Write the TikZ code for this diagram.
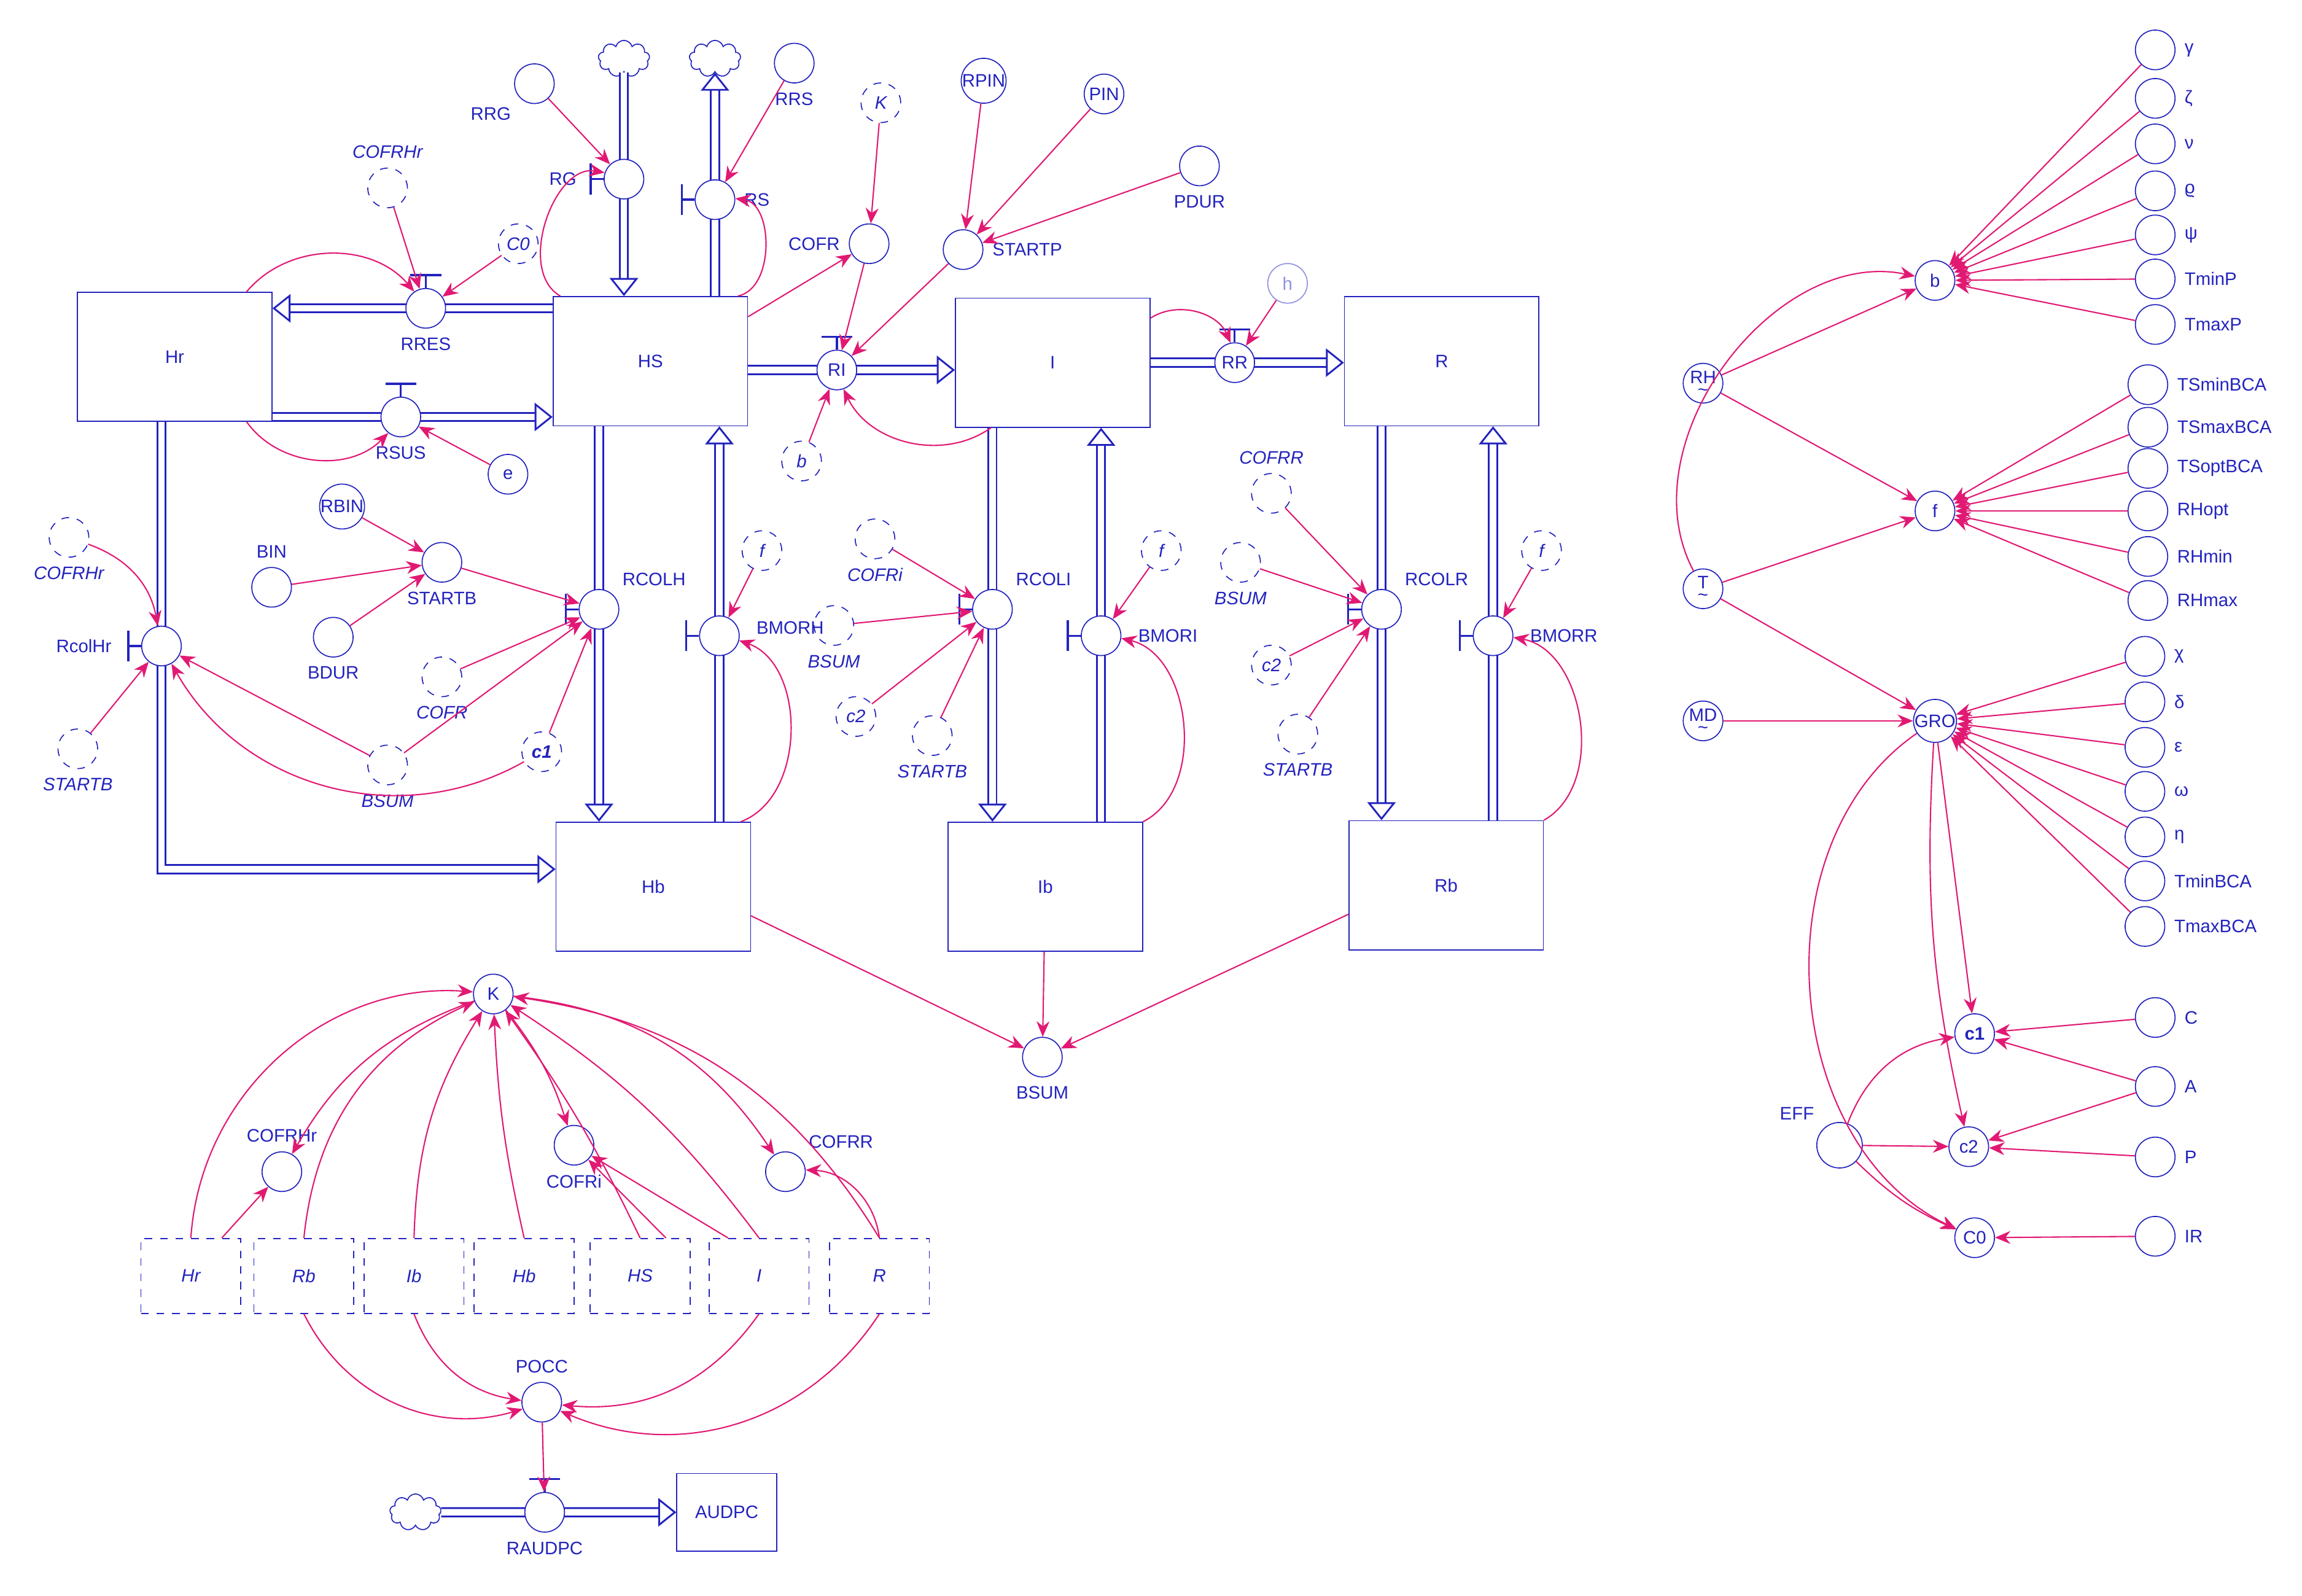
\documentclass[tikz,border=0pt]{standalone}
\usepackage{fontspec}
\setmainfont{Liberation Sans}
\usetikzlibrary{arrows.meta,shapes.symbols}
\definecolor{flowblue}{RGB}{35,35,190}
\definecolor{linkred}{RGB}{225,25,115}
\tikzset{
  every node/.style={font=\fontsize{7}{8}\selectfont, text=flowblue},
  stock/.style={draw=flowblue, minimum width=2.65cm, minimum height=1.76cm},
  ghostbox/.style={draw=flowblue, dashed, minimum width=1.36cm, minimum height=1.02cm, font=\fontsize{7}{8}\selectfont\itshape},
  aux/.style={circle, draw=flowblue, minimum size=0.54cm, inner sep=0pt},
  ghost/.style={aux, dashed, font=\fontsize{7}{8}\selectfont\itshape},
  valve/.style={aux, fill=white},
  it/.style={font=\fontsize{7}{8}\selectfont\itshape},
  pipe/.style={draw=flowblue, double=white, double distance=2.5pt, line width=0.7pt, -{Triangle[open,length=7pt,width=11pt]}},
  link/.style={draw=linkred, line width=0.5pt, -{Stealth[length=6pt,width=5pt]}},
  cloudy/.style={cloud, cloud puffs=9, draw=flowblue, minimum width=0.7cm, minimum height=0.5cm, inner sep=0pt},
}
\newcommand\valvetop[1]{\draw[flowblue, line width=0.8pt] (#1.north) -- ++(0,5pt) ++(-6pt,0) -- ++(12pt,0);}
\newcommand\valveleft[1]{\draw[flowblue, line width=0.8pt] (#1.west) -- ++(-5pt,0) ++(0,-6pt) -- ++(0,12pt);}
\newcommand\wavy[1]{\shortstack{#1\\[-1pt]\char`~}}
\begin{document}
\begin{tikzpicture}[x=0.02cm, y=-0.02cm]
\useasboundingbox (0,0) rectangle (1568,1087);

% stocks
\node[stock] (Hr) at (119,243) {Hr};
\node[stock] (HS) at (443,246) {HS};
\node[stock] (I) at (717,247) {I};
\node[stock] (R) at (982,246) {R};
\node[stock] (Hb) at (445,604) {Hb};
\node[stock] (Ib) at (712,604) {Ib};
\node[stock] (Rb) at (985,603) {Rb};
\node[stock, minimum width=1.36cm, minimum height=1.06cm] (AUDPC) at (495,1030) {AUDPC};

% clouds
\node[cloudy] (cRG) at (425,40) {};
\node[cloudy] (cRS) at (487,40) {};
\node[cloudy] (cAU) at (283,1030) {};

% valves (positions only, drawn after the pipes)
\coordinate (RG) at (425,122);
\coordinate (RS) at (487,136);
\coordinate (RRES) at (290,210);
\coordinate (RSUS) at (273,284);
\coordinate (RI) at (570,252);
\coordinate (RR) at (841,247);
\coordinate (RCOLH) at (408,415);
\coordinate (BMORH) at (490,433);
\coordinate (RCOLI) at (676,415);
\coordinate (BMORI) at (750,433);
\coordinate (RCOLR) at (941,415);
\coordinate (BMORR) at (1017,433);
\coordinate (RcolHr) at (110,440);
\coordinate (RAUDPC) at (371,1030);

% pipes
\draw[pipe] (cRG) -- (HS.north -| RG);
\draw[pipe] (HS.north -| RS) -- (cRS);
\draw[pipe] (HS.west |- RRES) -- (Hr.east |- RRES);
\draw[pipe] (Hr.east |- RSUS) -- (HS.west |- RSUS);
\draw[pipe] (HS.east |- RI) -- (I.west |- RI);
\draw[pipe] (I.east |- RR) -- (R.west |- RR);
\draw[pipe] (HS.south -| RCOLH) -- (Hb.north -| RCOLH);
\draw[pipe] (Hb.north -| BMORH) -- (HS.south -| BMORH);
\draw[pipe] (I.south -| RCOLI) -- (Ib.north -| RCOLI);
\draw[pipe] (Ib.north -| BMORI) -- (I.south -| BMORI);
\draw[pipe] (R.south -| RCOLR) -- (Rb.north -| RCOLR);
\draw[pipe] (Rb.north -| BMORR) -- (R.south -| BMORR);
\draw[pipe] (Hr.south -| RcolHr) |- ([yshift=0.24cm]Hb.west);
\draw[pipe] (cAU) -- (AUDPC);

\node[valve, label={[xshift=-7pt]left:RG}] (vRG) at (RG) {}; \valveleft{vRG}
\node[valve, label={right:RS}] (vRS) at (RS) {}; \valveleft{vRS}
\node[valve, label={below:RRES}] (vRRES) at (RRES) {}; \valvetop{vRRES}
\node[valve, label={below:RSUS}] (vRSUS) at (RSUS) {}; \valvetop{vRSUS}
\node[valve] (vRI) at (RI) {RI}; \valvetop{vRI}
\node[valve] (vRR) at (RR) {RR}; \valvetop{vRR}
\node[valve, label={above right:RCOLH}] (vRCOLH) at (RCOLH) {}; \valveleft{vRCOLH}
\node[valve, label={[xshift=3pt,yshift=3pt]right:BMORH}] (vBMORH) at (BMORH) {}; \valveleft{vBMORH}
\node[valve, label={above right:RCOLI}] (vRCOLI) at (RCOLI) {}; \valveleft{vRCOLI}
\node[valve, label={[xshift=3pt]right:BMORI}] (vBMORI) at (BMORI) {}; \valveleft{vBMORI}
\node[valve, label={above right:RCOLR}] (vRCOLR) at (RCOLR) {}; \valveleft{vRCOLR}
\node[valve, label={[xshift=3pt]right:BMORR}] (vBMORR) at (BMORR) {}; \valveleft{vBMORR}
\node[valve, label={[xshift=-8pt]left:RcolHr}] (vRcolHr) at (RcolHr) {}; \valveleft{vRcolHr}
\node[valve, label={below:RAUDPC}] (vRAUDPC) at (RAUDPC) {}; \valvetop{vRAUDPC}

% auxiliaries
\node[aux, label={below left:RRG}] (RRG) at (364,57) {};
\node[aux, label={below:RRS}] (RRS) at (541,43) {};
\node[ghost] (gK) at (600,70) {K};
\node[aux] (RPIN) at (670,55) {RPIN};
\node[aux] (PIN) at (752,64) {PIN};
\node[aux, label={below:PDUR}] (PDUR) at (817,113) {};
\node[aux, label={right:STARTP}] (STARTP) at (656,170) {};
\node[aux, label={left:COFR}] (COFR) at (592,166) {};
\node[aux, draw=flowblue!50, text=flowblue!50] (h) at (877,193) {h};
\node[ghost] (gb) at (546,314) {b};
\node[aux] (e) at (346,323) {e};
\node[ghost] (gC0) at (353,166) {C0};
\node[ghost, label={[it]above:COFRHr}] (gCOFRHr1) at (264,128) {};
\node[aux] (RBIN) at (233,345) {RBIN};
\node[aux, label={above:BIN}] (BIN) at (185,400) {};
\node[aux, label={below:STARTB}] (STARTB) at (301,383) {};
\node[aux, label={below:BDUR}] (BDUR) at (227,434) {};
\node[ghost, label={[it]below:COFR}] (gCOFR) at (301,461) {};
\node[ghost, label={[it]below:BSUM}] (gBSUM1) at (264,521) {};
\node[ghost] (gc1) at (369,512) {\bfseries c1};
\node[ghost] (gf1) at (519,375) {f};
\node[ghost, label={[it]below:COFRHr}] (gCOFRHr2) at (47,366) {};
\node[ghost, label={[it]below:STARTB}] (gSTARTB1) at (53,510) {};
\node[ghost, label={[it]below:COFRi}] (gCOFRi) at (596,367) {};
\node[ghost, label={[it]below:BSUM}] (gBSUM2) at (568,426) {};
\node[ghost] (gc2a) at (583,488) {c2};
\node[ghost, label={[it]below:STARTB}] (gSTARTB2) at (635,501) {};
\node[ghost] (gf2) at (791,375) {f};
\node[ghost, label={[it]above:COFRR}] (gCOFRR) at (866,336) {};
\node[ghost, label={[it]below:BSUM}] (gBSUM3) at (845,383) {};
\node[ghost] (gc2b) at (866,453) {c2};
\node[ghost, label={[it]below:STARTB}] (gSTARTB3) at (884,500) {};
\node[ghost] (gf3) at (1050,375) {f};
\node[aux, label={below:BSUM}] (BSUM) at (710,720) {};
\node[aux] (K) at (336,677) {K};
\node[aux, label={above:COFRHr}] (COFRHr) at (192,798) {};
\node[aux, label={below:COFRi}] (COFRi) at (391,780) {};
\node[aux, label={above right:COFRR}] (COFRR) at (535,798) {};
\node[aux, label={above:POCC}] (POCC) at (369,955) {};

% ghost stocks
\node[ghostbox] (gHr) at (130,869) {Hr};
\node[ghostbox] (gRb) at (207,869) {Rb};
\node[ghostbox] (gIb) at (282,869) {Ib};
\node[ghostbox] (gHb) at (357,869) {Hb};
\node[ghostbox] (gHS) at (436,869) {HS};
\node[ghostbox] (gI) at (517,869) {I};
\node[ghostbox] (gR) at (599,869) {R};

% right block
\node[aux] (b) at (1318,191) {b};
\node[aux] (RH) at (1160,261) {\wavy{RH}};
\node[aux] (f) at (1318,348) {f};
\node[aux] (T) at (1160,401) {\wavy{T}};
\node[aux] (MD) at (1160,491) {\wavy{MD}};
\node[aux] (GRO) at (1318,491) {GRO};
\node[aux] (rc1) at (1345,704) {\bfseries c1};
\node[aux] (rc2) at (1341,781) {c2};
\node[aux] (rC0) at (1345,843) {C0};
\node[aux, minimum size=0.62cm, label={above left:EFF}] (EFF) at (1253,780) {};
\foreach \n/\t/\y in {ga/γ/34, ze/ζ/67, nu/ν/98, rh/ϱ/130, ps/ψ/160, tn/TminP/190, tx/TmaxP/221}
  {\node[aux, label={right:\t}] (p\n) at (1468,\y) {}; \draw[link] (p\n) -- (b);}
\foreach \n/\t/\y in {a/TSminBCA/262, b/TSmaxBCA/291, c/TSoptBCA/319, d/RHopt/348, e/RHmin/379, f/RHmax/409}
  {\node[aux, label={right:\t}] (q\n) at (1463,\y) {}; \draw[link] (q\n) -- (f);}
\foreach \n/\t/\y in {a/χ/447, b/δ/478, c/ε/509, d/ω/539, e/η/570, f/TminBCA/600, g/TmaxBCA/631}
  {\node[aux, label={right:\t}] (s\n) at (1461,\y) {}; \draw[link] (s\n) -- (GRO);}
\node[aux, label={right:C}] (C) at (1468,693) {};
\node[aux, label={right:A}] (A) at (1468,740) {};
\node[aux, label={right:P}] (P) at (1468,788) {};
\node[aux, label={right:IR}] (IR) at (1468,842) {};

% links around HS and Hr
\draw[link] (RRG) -- (vRG);
\draw[link] (RRS) -- (vRS);
\draw[link] ([xshift=3pt]HS.north west) to[bend left=80] (vRG);
\draw[link] ([xshift=-4pt]HS.north east) to[bend right=80] (vRS);
\draw[link] (gCOFRHr1) -- (vRRES);
\draw[link] (gC0) -- (vRRES);
\draw[link] ([xshift=-10pt]Hr.north east) to[bend left=50] (vRRES);
\draw[link] ([xshift=-10pt]Hr.south east) to[bend right=50] (vRSUS);
\draw[link] (e) -- (vRSUS);
\draw[link] ([yshift=-8pt]HS.north east) -- (COFR);
\draw[link] (gK) -- (COFR);
\draw[link] (COFR) -- (vRI);
\draw[link] (gb) -- (vRI);
\draw[link] (STARTP) -- (vRI);
\draw[link] (RPIN) -- (STARTP);
\draw[link] (PIN) -- (STARTP);
\draw[link] (PDUR) -- (STARTP);
\draw[link] ([xshift=14pt]I.south west) to[bend left=50] (vRI);
\draw[link] ([yshift=-8pt]I.north east) to[bend left=50] (vRR);
\draw[link] (h) -- (vRR);
% Hr / Hb collection
\draw[link] (RBIN) -- (STARTB);
\draw[link] (BIN) -- (STARTB);
\draw[link] (BDUR) -- (STARTB);
\draw[link] (STARTB) -- (vRCOLH);
\draw[link] (gCOFR) -- (vRCOLH);
\draw[link] (gBSUM1) -- (vRCOLH);
\draw[link] (gc1) -- (vRCOLH);
\draw[link] (gCOFRHr2) to[bend left=30] (vRcolHr);
\draw[link] (gSTARTB1) -- (vRcolHr);
\draw[link] (gBSUM1) -- (vRcolHr);
\draw[link] (gc1) to[bend left=45] (vRcolHr);
\draw[link] (gf1) -- (vBMORH);
\draw[link] ([xshift=-4pt]Hb.north east) to[bend right=70] (vBMORH);
% I and R collection
\draw[link] (gCOFRi) -- (vRCOLI);
\draw[link] (gBSUM2) -- (vRCOLI);
\draw[link] (gc2a) -- (vRCOLI);
\draw[link] (gSTARTB2) -- (vRCOLI);
\draw[link] (gf2) -- (vBMORI);
\draw[link] (Ib.north east) to[bend right=70] (vBMORI);
\draw[link] (gCOFRR) -- (vRCOLR);
\draw[link] (gBSUM3) -- (vRCOLR);
\draw[link] (gc2b) -- (vRCOLR);
\draw[link] (gSTARTB3) -- (vRCOLR);
\draw[link] (gf3) -- (vBMORR);
\draw[link] (Rb.north east) to[bend right=70] (vBMORR);
\draw[link] ([yshift=14pt]Hb.south east) -- (BSUM);
\draw[link] (Ib) -- (BSUM);
\draw[link] ([yshift=14pt]Rb.south west) -- (BSUM);
% K, COF and POCC
\draw[link] (gHr.north) to[bend left=45] (K);
\draw[link] (gRb.north) to[bend left=30] (K);
\draw[link] (gIb.north) to[bend left=15] (K);
\draw[link] (gHb.north) to[bend left=5] (K);
\draw[link] (gHS.north) to[bend right=5] (K);
\draw[link] (gI.north) to[bend right=10] (K);
\draw[link] (gR.north) to[bend right=25] (K);
\draw[link] (K) to[bend right=20] (COFRHr);
\draw[link] (K) to[bend left=10] (COFRi);
\draw[link] (K) to[bend left=25] (COFRR);
\draw[link] ([xshift=12pt]gHr.north) -- (COFRHr);
\draw[link] ([xshift=-12pt]gI.north) -- (COFRi);
\draw[link] ([xshift=10pt]gHS.north) -- (COFRi);
\draw[link] (gR.north) to[bend right=40] (COFRR);
\draw[link] (gRb.south) to[bend right=40] (POCC);
\draw[link] (gIb.south) to[bend right=30] (POCC);
\draw[link] (gI.south) to[bend left=30] (POCC);
\draw[link] (gR.south) to[bend left=40] (POCC);
\draw[link] (POCC) -- (vRAUDPC);
% right block
\draw[link] (RH) -- (b);
\draw[link] (RH) -- (f);
\draw[link] (T) to[bend left=65] (b);
\draw[link] (T) -- (f);
\draw[link] (T) -- (GRO);
\draw[link] (MD) -- (GRO);
\draw[link] (GRO) -- (rc1);
\draw[link] (GRO) to[bend right=8] (rc2);
\draw[link] (GRO) to[bend right=60] (rC0);
\draw[link] (EFF) to[bend left=30] (rc1);
\draw[link] (EFF) -- (rc2);
\draw[link] (EFF) to[bend right=10] (rC0);
\draw[link] (C) -- (rc1);
\draw[link] (A) -- (rc1);
\draw[link] (A) -- (rc2);
\draw[link] (P) -- (rc2);
\draw[link] (IR) -- (rC0);
\end{tikzpicture}
\end{document}
